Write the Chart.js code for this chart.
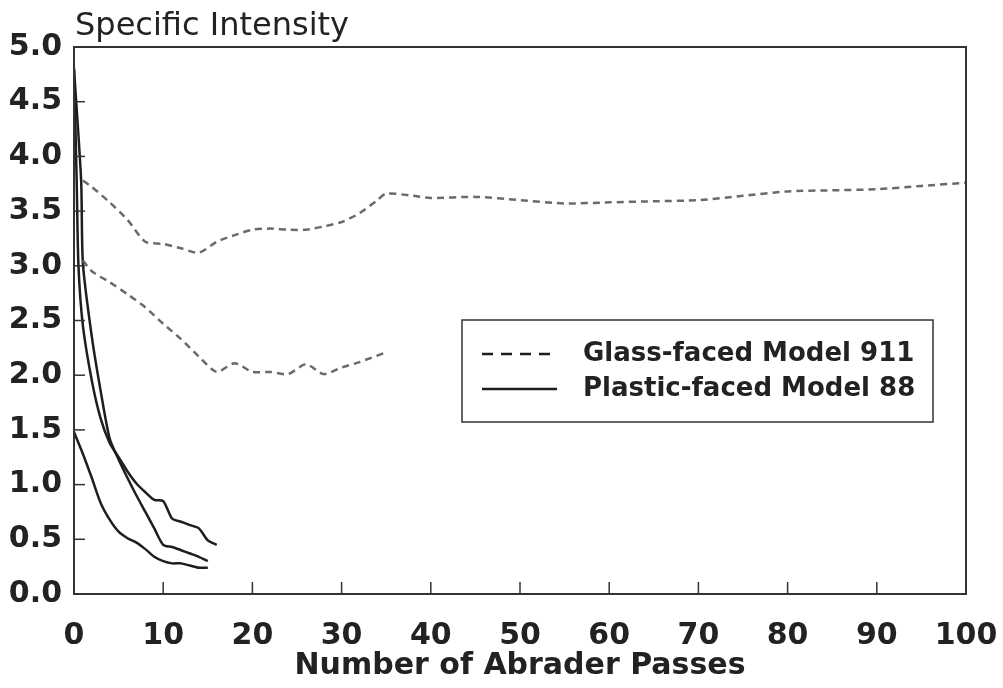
<!DOCTYPE html>
<html>
<head>
<meta charset="utf-8">
<script src="https://cdn.jsdelivr.net/npm/chart.js@4/dist/chart.umd.min.js"></script>
<style>
  html, body { margin: 0; padding: 0; background: #fff; }
  #wrap { width: 1003px; height: 688px; }
</style>
</head>
<body>
<div id="wrap"><canvas id="chart"></canvas></div>
<script>
// Glass-faced runs (dashed)
const glassAPasses = [1, 2, 4, 6, 8, 10, 12, 14, 16, 18, 20, 22, 24, 26, 28, 30, 32, 34, 35, 38, 40, 45, 50, 55, 60, 65, 70, 75, 80, 85, 90, 95, 100];
const glassAValues = [3.78, 3.72, 3.58, 3.42, 3.22, 3.20, 3.16, 3.12, 3.22, 3.28, 3.33, 3.34, 3.33, 3.33, 3.36, 3.40, 3.48, 3.60, 3.66, 3.64, 3.62, 3.63, 3.60, 3.57, 3.58, 3.59, 3.60, 3.64, 3.68, 3.69, 3.70, 3.73, 3.76];
const glassBPasses = [1, 2, 4, 6, 8, 10, 12, 14, 16, 18, 20, 22, 24, 26, 28, 30, 32, 35];
const glassBValues = [3.05, 2.95, 2.85, 2.74, 2.62, 2.47, 2.33, 2.17, 2.03, 2.11, 2.03, 2.03, 2.01, 2.10, 2.01, 2.07, 2.12, 2.21];

// Plastic-faced runs (solid)
const plasticAPasses = [0, 0.3, 0.5, 1, 2, 3, 4, 5, 6, 7, 8, 9, 10, 11, 12, 13, 14, 15, 16];
const plasticAValues = [4.8, 3.78, 3.0, 2.45, 1.95, 1.6, 1.38, 1.25, 1.12, 1.01, 0.93, 0.86, 0.85, 0.69, 0.66, 0.63, 0.60, 0.49, 0.45];
const plasticBPasses = [0, 0.8, 1, 2, 3, 4, 5, 6, 7, 8, 9, 10, 11, 12, 13, 14, 15];
const plasticBValues = [4.8, 3.78, 3.02, 2.35, 1.85, 1.42, 1.23, 1.06, 0.90, 0.75, 0.60, 0.45, 0.43, 0.40, 0.37, 0.34, 0.30];
const plasticCPasses = [0, 1, 2, 3, 4, 5, 6, 7, 8, 9, 10, 11, 12, 13, 14, 15];
const plasticCValues = [1.48, 1.28, 1.06, 0.83, 0.68, 0.57, 0.51, 0.47, 0.41, 0.34, 0.30, 0.28, 0.28, 0.26, 0.24, 0.24];

const seriesNames = ["Glass-faced Model 911", "Plastic-faced Model 88"];
const xTitle = "Number of Abrader Passes";
const yTitle = "Specific Intensity";

const toPoints = (xs, ys) => xs.map((x, i) => ({ x: x, y: ys[i] }));

const glassStyle = { borderColor: '#6a6a6a', borderWidth: 2.5, borderDash: [7, 5] };
const plasticStyle = { borderColor: '#1e1e1e', borderWidth: 2.5 };

function makeSet(name, xs, ys, style) {
    return Object.assign({
        label: name,
        data: toPoints(xs, ys),
        pointRadius: 0,
        fill: false,
        tension: 0.25
    }, style);
}

// Frame, inward ticks and the boxed legend
const framePlugin = {
    id: 'frame',
    afterDraw(chart) {
        const ctx = chart.ctx;
        const a = chart.chartArea;
        const xs = chart.scales.x, ys = chart.scales.y;
        ctx.save();
        ctx.strokeStyle = '#333';
        ctx.lineWidth = 2;
        ctx.strokeRect(a.left, a.top, a.right - a.left, a.bottom - a.top);

        ctx.lineWidth = 1.5;
        ys.ticks.forEach(t => {
            const py = ys.getPixelForValue(t.value);
            ctx.beginPath();
            ctx.moveTo(a.left, py);
            ctx.lineTo(a.left + 11, py);
            ctx.stroke();
        });
        xs.ticks.forEach(t => {
            const px = xs.getPixelForValue(t.value);
            ctx.beginPath();
            ctx.moveTo(px, a.bottom);
            ctx.lineTo(px, a.bottom - 12);
            ctx.stroke();
        });

        // y axis title above the frame
        ctx.fillStyle = '#222';
        ctx.font = '32px "DejaVu Sans"';
        ctx.textBaseline = 'middle';
        ctx.textAlign = 'left';
        ctx.fillText(yTitle, a.left + 1, a.top - 20);

        // legend box
        const bx = a.left + 388, by = a.top + 273, bw = 471, bh = 102;
        ctx.fillStyle = '#fff';
        ctx.fillRect(bx, by, bw, bh);
        ctx.strokeStyle = '#333';
        ctx.lineWidth = 1.5;
        ctx.strokeRect(bx, by, bw, bh);
        const entries = [
            { name: seriesNames[0], style: glassStyle, y: by + 34 },
            { name: seriesNames[1], style: plasticStyle, y: by + 69 }
        ];
        entries.forEach(e => {
            ctx.beginPath();
            ctx.strokeStyle = '#1e1e1e';
            ctx.lineWidth = 2.5;
            ctx.setLineDash(e.style.borderDash ? [11, 8] : []);
            ctx.moveTo(bx + 20, e.y);
            ctx.lineTo(bx + 95, e.y);
            ctx.stroke();
            ctx.setLineDash([]);
            ctx.fillStyle = '#222';
            ctx.font = 'bold 26px "DejaVu Sans"';
            ctx.fillText(e.name, bx + 121, e.y);
        });
        ctx.restore();
    }
};

const ctx = document.getElementById('chart').getContext('2d');
const myChart = new Chart(ctx, {
    type: 'line',
    data: {
        datasets: [
            makeSet(seriesNames[0], glassAPasses, glassAValues, glassStyle),
            makeSet(seriesNames[0], glassBPasses, glassBValues, glassStyle),
            makeSet(seriesNames[1], plasticAPasses, plasticAValues, plasticStyle),
            makeSet(seriesNames[1], plasticBPasses, plasticBValues, plasticStyle),
            makeSet(seriesNames[1], plasticCPasses, plasticCValues, plasticStyle)
        ]
    },
    options: {
        responsive: true,
        maintainAspectRatio: false,
        animation: false,
        layout: { padding: { top: 47, right: 37, left: 0, bottom: 0 } },
        plugins: {
            legend: { display: false },
            tooltip: { enabled: false }
        },
        scales: {
            x: {
                type: 'linear',
                min: 0,
                max: 100,
                ticks: {
                    stepSize: 10,
                    color: '#222',
                    padding: 16,
                    maxRotation: 0,
                    font: { family: 'DejaVu Sans', weight: 'bold', size: 30 }
                },
                grid: { display: false },
                border: { display: false },
                title: {
                    display: true,
                    text: xTitle,
                    color: '#222',
                    padding: { top: 0, bottom: 4 },
                    font: { family: 'DejaVu Sans', weight: 'bold', size: 30 }
                },
                afterFit(scale) {
                    scale.height = 94;
                    scale.paddingLeft = 0;
                    scale.paddingRight = 0;
                }
            },
            y: {
                min: 0,
                max: 5,
                ticks: {
                    stepSize: 0.5,
                    color: '#222',
                    padding: 4,
                    callback: v => Number(v).toFixed(1),
                    font: { family: 'DejaVu Sans', weight: 'bold', size: 30 }
                },
                grid: { display: false },
                border: { display: false },
                afterFit(scale) { scale.width = 74; }
            }
        }
    },
    plugins: [framePlugin]
});
</script>
</body>
</html>
